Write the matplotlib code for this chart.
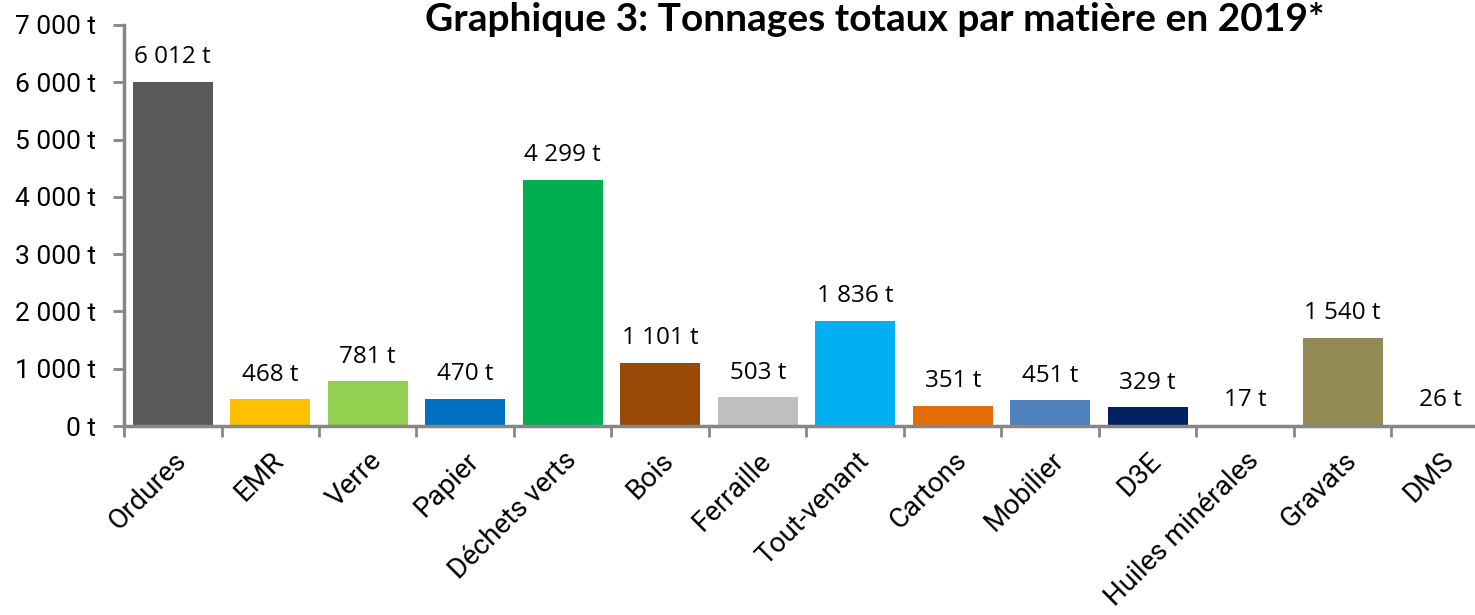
import matplotlib
matplotlib.use("Agg")
import matplotlib.pyplot as plt
from matplotlib.ticker import FuncFormatter, FixedLocator, NullFormatter

categories = ["Ordures", "EMR", "Verre", "Papier", "Déchets verts", "Bois", "Ferraille",
              "Tout-venant", "Cartons", "Mobilier", "D3E", "Huiles minérales", "Gravats", "DMS"]
tonnages = [6012, 468, 781, 470, 4299, 1101, 503, 1836, 351, 451, 329, 17, 1540, 26]
colors = ["#595959", "#FFC000", "#92D050", "#0070C0", "#00B050", "#984807", "#BFBFBF",
          "#00B0F0", "#E36C09", "#4F81BD", "#002060", "#7F7F7F", "#948A54", "#C5D9F1"]
title = "Graphique 3: Tonnages totaux par matière en 2019*"

narrow = ["Roboto", "DejaVu Sans"]
label_font = ["Open Sans", "DejaVu Sans"]

fig = plt.figure(figsize=(14.75, 6.15), dpi=100)
ax = fig.add_axes([124 / 1475, 1 - 426 / 615, 1365 / 1475, (426 - 25) / 615])

x = list(range(len(categories)))
ax.bar(x, tonnages, width=0.82, color=colors, zorder=2)

for xi, v in zip(x, tonnages):
    lbl = f"{v:,} t".replace(",", " ")
    ax.text(xi, v + 220, lbl, ha="center", va="bottom", fontsize=17.5,
            family=label_font, color="black")

ax.set_xlim(-0.5, len(categories) - 0.5)
ax.set_ylim(0, 7000)
ax.set_yticks(range(0, 7001, 1000))
ax.yaxis.set_major_formatter(FuncFormatter(lambda v, p: f"{int(v):,} t".replace(",", " ")))

ax.set_xticks(x)
ax.set_xticklabels(categories, rotation=45, ha="right", rotation_mode="anchor",
                   family=narrow, fontsize=20)
ax.tick_params(axis="x", length=0, pad=15)
ax.xaxis.set_minor_locator(FixedLocator([i - 0.5 for i in range(len(categories) + 1)]))
ax.xaxis.set_minor_formatter(NullFormatter())
ax.tick_params(axis="x", which="minor", length=8, width=2, color="#868686", direction="out")
ax.tick_params(axis="y", length=8, width=2, color="#868686", direction="out", pad=12)
for t in ax.get_yticklabels():
    t.set_family(narrow)
    t.set_fontsize(19)

for side in ["top", "right"]:
    ax.spines[side].set_visible(False)
for side in ["left", "bottom"]:
    ax.spines[side].set_color("#868686")
    ax.spines[side].set_linewidth(2.5)

fig.text(875 / 1475, 1 - 2 / 615, title, ha="center", va="top", fontsize=28,
         fontweight="bold", family=["Lato", "DejaVu Sans"])

fig.savefig("out.png", dpi=100, facecolor="white")
